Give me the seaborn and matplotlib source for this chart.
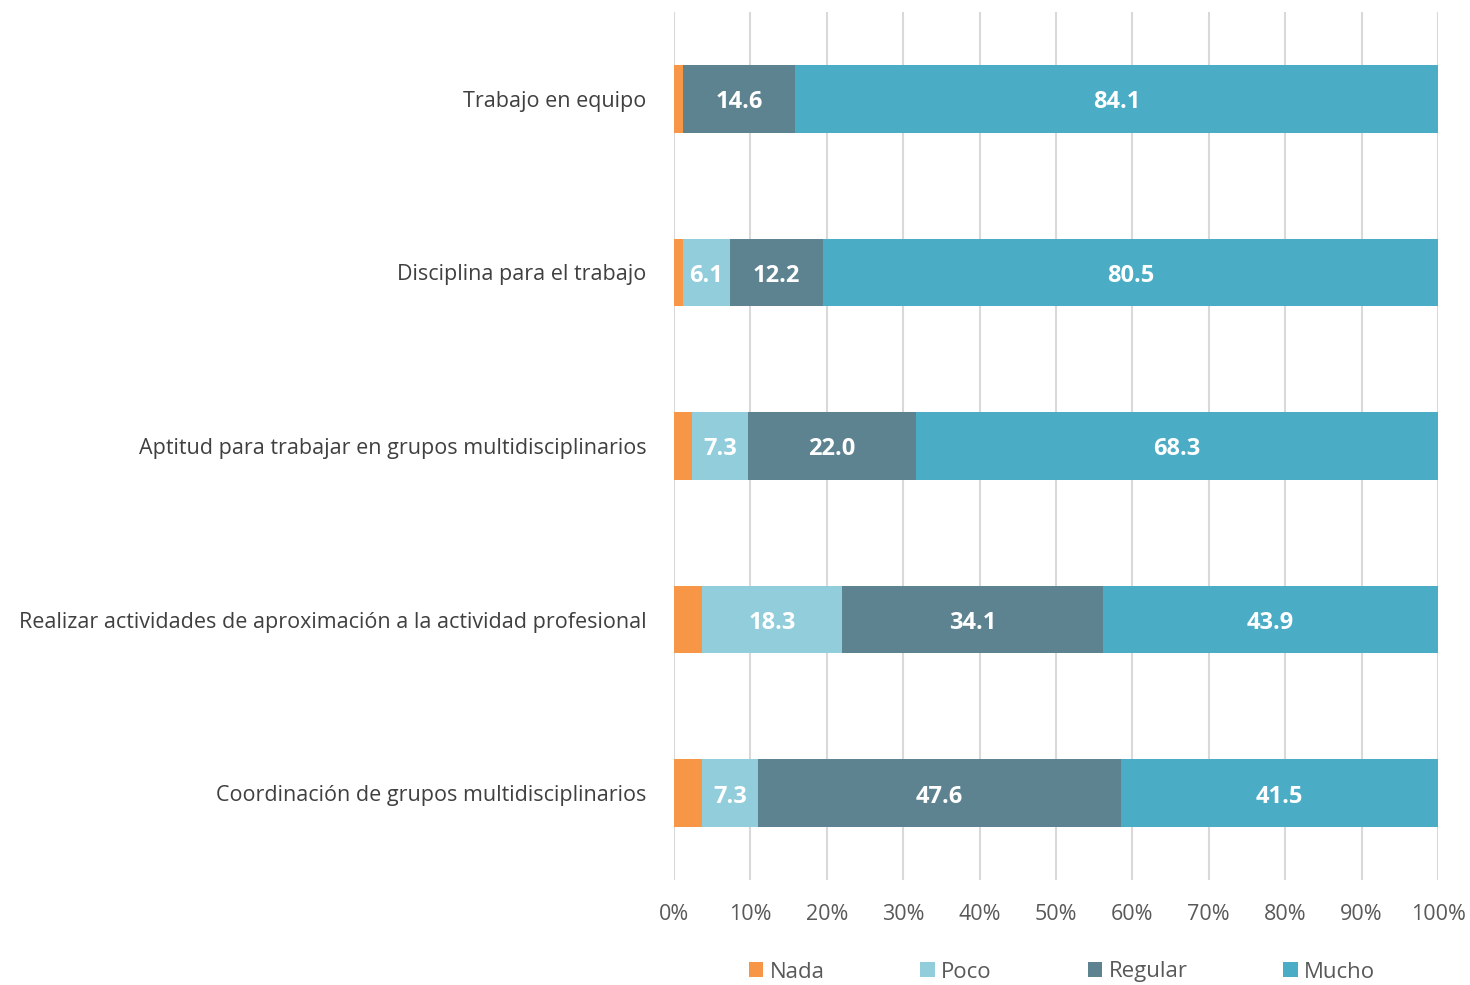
import matplotlib
matplotlib.use("Agg")
import matplotlib.pyplot as plt
import seaborn as sns
import pandas as pd
import numpy as np
from matplotlib.patches import Patch

categories = ["Trabajo en equipo", "Disciplina para el trabajo",
              "Aptitud para trabajar en grupos multidisciplinarios",
              "Realizar actividades de aproximación a la actividad profesional",
              "Coordinación de grupos multidisciplinarios"]
series = ["Nada", "Poco", "Regular", "Mucho"]
nada = [1.2, 1.2, 2.4, 3.7, 3.7]
poco = [0.0, 6.1, 7.3, 18.3, 7.3]
regular = [14.6, 12.2, 22.0, 34.1, 47.6]
mucho = [84.1, 80.5, 68.3, 43.9, 41.5]
xticks = [0, 10, 20, 30, 40, 50, 60, 70, 80, 90, 100]
colors = ["#F79646", "#92CDDC", "#5E8390", "#4BACC6"]

sns.set_theme(style="white")
plt.rcParams['font.family'] = ['Open Sans', 'DejaVu Sans']

vals = np.array([nada, poco, regular, mucho])
cum = np.cumsum(vals, axis=0)
tot = cum[-1]
cum_pct = cum / tot * 100
start_pct = cum_pct - vals / tot * 100

fig = plt.figure(figsize=(14.7, 9.85), dpi=100)
ax = fig.add_axes([674/1470, 1-880/985, (1438-674)/1470, (880-12)/985])

for i in range(3, -1, -1):
    df = pd.DataFrame({"cat": categories, "v": cum_pct[i]})
    sns.barplot(data=df, x="v", y="cat", orient="h", color=colors[i],
                width=0.39, linewidth=0, saturation=1, ax=ax, zorder=3)

for i in range(1, 4):
    for j in range(5):
        if vals[i, j] > 0:
            ax.text((start_pct[i, j] + cum_pct[i, j]) / 2, j + 0.02, f"{vals[i, j]:.1f}",
                    ha="center", va="center", color="white", fontsize=17,
                    fontweight="bold", zorder=5)

ax.set_xlim(0, 100)
ax.set_ylim(4.5, -0.5)
ax.set_xticks(xticks)
ax.set_xticklabels([f"{t}%" for t in xticks], fontsize=15.5, color="#595959")
ax.tick_params(axis="y", labelsize=15.5, labelcolor="#404040", length=0, pad=20)
ax.tick_params(axis="x", length=0, pad=17)
ax.set_xlabel("")
ax.set_ylabel("")
ax.xaxis.grid(True, color="#D9D9D9", linewidth=1.5, zorder=0)
ax.set_axisbelow(True)
for s in ax.spines.values():
    s.set_visible(False)

handles = [Patch(facecolor=c, edgecolor="none") for c in colors]
fig.legend(handles, series, loc="center", bbox_to_anchor=(1062/1470, 1-972/985),
           ncol=4, frameon=False, fontsize=16, handlelength=0.65, handleheight=0.65,
           handletextpad=0.3, columnspacing=4.3, labelcolor="#595959")

fig.savefig("out.png", dpi=100)
